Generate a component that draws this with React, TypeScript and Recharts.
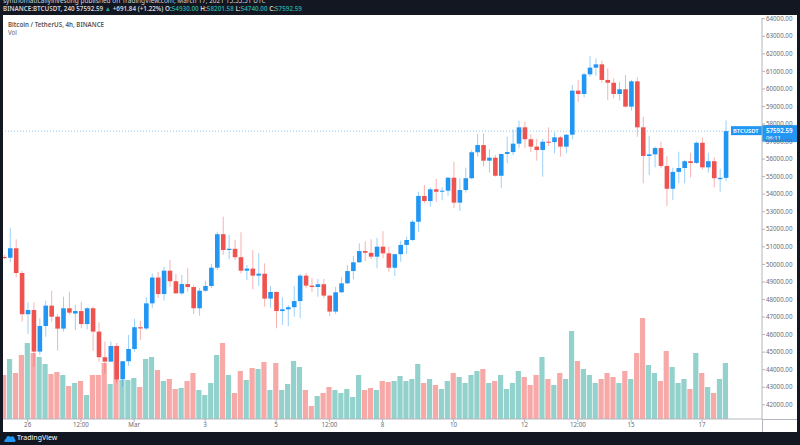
import { ComposedChart, Bar, XAxis, YAxis, Cell, ReferenceLine } from 'recharts';

// 4h candles, BTCUSDT Binance, Feb 25 08:00 -> Mar 17 16:00 (2021)
const opens = [
  50420, 50380, 50920, 49510, 47160, 47400, 45030, 46490, 47650, 47020,
  46340, 47500, 47200, 47340, 46600, 47500, 46170, 44710, 44460, 45350,
  43450, 44480, 45180, 46420, 46350, 47780, 49250, 48310, 49640, 49040,
  48350, 48880, 48710, 47500, 48500, 48770, 49810, 51720, 50820, 50890,
  50410, 49640, 49760, 49360, 49470, 48050, 48430, 47340, 47440, 47560,
  47910, 49360, 48790, 48710, 48870, 48220, 47310, 48410, 48920, 49620,
  50120, 50760, 50660, 50440, 51010, 50630, 49810, 50580, 51110, 51390,
  52430, 53900, 53610, 54280, 54140, 54200, 54940, 53520, 54240, 54910,
  56390, 56800, 55910, 56080, 55050, 56290, 56400, 56880, 57810, 57130,
  56710, 56520, 56990, 56970, 57240, 56710, 57390, 59900, 59710, 60830,
  61210, 61400, 60510, 60350, 59710, 59980, 58990, 60430, 57810, 56180,
  56270, 56630, 55610, 54310, 55270, 55490, 55880, 55780, 56930, 55530,
  55880, 54860, 54930,
];
const highs = [
  50540, 52090, 51430, 49620, 47840, 47840, 46930, 47930, 48500, 47170,
  48160, 48440, 47690, 47870, 47560, 47590, 46700, 45600, 45600, 45520,
  44500, 45980, 46890, 46790, 48130, 49490, 49580, 49870, 50250, 49450,
  49400, 49780, 48830, 48660, 49070, 50020, 51860, 52720, 51680, 51390,
  51830, 49970, 50820, 50630, 50060, 48770, 48450, 48130, 47690, 48770,
  49450, 49510, 49210, 49170, 49170, 48260, 48730, 49270, 49970, 50480,
  51200, 51310, 51430, 51520, 51900, 51010, 50600, 51350, 51580, 52530,
  54140, 54520, 54390, 54870, 54390, 54960, 55850, 54910, 55510, 56520,
  57430, 57450, 56560, 56230, 56300, 57280, 57700, 58190, 58130, 57430,
  57160, 57150, 57810, 57500, 57320, 57400, 60220, 60510, 60920, 61880,
  61740, 61610, 61170, 60600, 60410, 60790, 60510, 60660, 58420, 57330,
  56710, 56990, 56180, 55510, 56420, 55950, 56360, 57000, 57220, 56360,
  56100, 55440, 58201.58,
];
const lows = [
  50300, 50120, 49270, 46740, 46030, 44170, 44840, 45880, 46740, 45080,
  46170, 47120, 46260, 46360, 46300, 45080, 44460, 43810, 44440, 43230,
  43030, 44210, 45030, 45690, 46260, 47500, 48090, 47930, 48730, 48320,
  48260, 48440, 47170, 47080, 48430, 48660, 49680, 50540, 50290, 50250,
  49490, 49110, 48580, 48770, 47590, 47530, 46360, 46550, 46490, 47020,
  46930, 48640, 48430, 48160, 48070, 47060, 47170, 48370, 48880, 49150,
  50080, 50190, 50290, 49780, 50350, 49580, 49340, 50150, 50590, 51330,
  51860, 53480, 53290, 53570, 53670, 53910, 53200, 53040, 54090, 54850,
  56140, 55590, 55230, 55000, 54340, 55760, 56230, 56620, 56620, 56410,
  55910, 55000, 56750, 56330, 56140, 56330, 57130, 59270, 59520, 60700,
  60740, 60350, 59370, 59460, 59330, 58950, 58760, 57280, 54620, 55090,
  55530, 55480, 53330, 53670, 54620, 54620, 54960, 55730, 55420, 55230,
  54390, 54140, 54740,
];
const closes = [
  50360, 50920, 49510, 47160, 47400, 45030, 46490, 47650, 47020, 46340,
  47500, 47250, 47340, 46600, 47500, 46170, 44710, 44460, 45350, 43450,
  44480, 45180, 46420, 46350, 47780, 49250, 48310, 49640, 49040, 48350,
  48880, 48710, 47500, 48500, 48770, 49810, 51720, 50820, 50890, 50410,
  49640, 49760, 49360, 49470, 48050, 48430, 47340, 47440, 47560, 47910,
  49360, 48790, 48710, 48870, 48220, 47310, 48410, 48920, 49620, 50120,
  50760, 50660, 50440, 51010, 50630, 49810, 50580, 51110, 51390, 52430,
  53900, 53610, 54280, 54140, 54200, 54940, 53520, 54240, 54910, 56390,
  56800, 55910, 56080, 55050, 56290, 56400, 56880, 57810, 57130, 56710,
  56520, 56990, 56970, 57240, 56710, 57390, 59900, 59710, 60830, 61210,
  61400, 60510, 60350, 59710, 59980, 58990, 60430, 57810, 56180, 56270,
  56630, 55610, 54310, 55270, 55490, 55880, 55780, 56930, 55530, 55880,
  54910, 54930, 57592.59,
];
const volumes = [
  4400, 6000, 4600, 6400, 7600, 6600, 6200, 5500, 4500, 4700,
  4400, 3300, 3600, 3800, 2400, 4400, 4400, 5600, 3500, 7300,
  3900, 3900, 4100, 3200, 6000, 6200, 4900, 3800, 4000, 3000,
  3100, 3800, 4600, 2900, 2400, 3600, 6400, 7600, 4400, 2600,
  4800, 3900, 5100, 5000, 5700, 2900, 5600, 2900, 3500, 5800,
  5200, 2900, 1300, 2300, 2600, 3200, 2900, 2600, 3000, 2200,
  4400, 2900, 3100, 2900, 3800, 3700, 3800, 4300, 3800, 4000,
  5500, 3600, 4000, 3400, 3000, 3800, 4600, 4200, 3600, 4400,
  4800, 5000, 3600, 3800, 4400, 3000, 3600, 4800, 4200, 3400,
  4400, 6200, 4000, 3400, 4600, 4000, 8800, 5800, 5000, 4400,
  3600, 4000, 4600, 4200, 3600, 4800, 4000, 6600, 10100, 5400,
  4600, 3800, 6800, 5200, 3600, 4000, 3000, 6600, 4600, 3200,
  2600, 4000, 5600,
];

const tickIdx = [4, 13, 22, 34, 46, 55, 64, 76, 88, 97, 106, 118];
const tickLabels = ['26', '12:00', 'Mar', '3', '5', '12:00', '8', '10', '12', '12:00', '15', '17'];
const priceTicks = [
  42000, 43000, 44000, 45000, 46000, 47000, 48000, 49000, 50000, 51000, 52000,
  53000, 54000, 55000, 56000, 57000, 58000, 59000, 60000, 61000, 62000, 63000, 64000,
];
const lastPrice = 57592.59;

const data = opens.map((o, i) => ({
  i,
  open: o,
  high: highs[i],
  low: lows[i],
  close: closes[i],
  volume: volumes[i],
}));

const UP = '#2196f3';
const DOWN = '#ef5350';

function Candle(props: any) {
  const { x, y, width, height, payload } = props;
  if (!payload) return null;
  const { open, close, high, low } = payload;
  const color = close >= open ? UP : DOWN;
  const top = Math.min(y, y + height);
  const full = Math.abs(height);
  const k = high > low ? full / (high - low) : 0;
  const yo = top + (high - open) * k;
  const yc = top + (high - close) * k;
  const cx = x + width / 2;
  return (
    <g>
      <line x1={cx} x2={cx} y1={top} y2={top + full} stroke={color} strokeOpacity={0.45} />
      <rect x={x} y={Math.min(yo, yc)} width={width} height={Math.max(1, Math.abs(yo - yc))} fill={color} />
    </g>
  );
}

function PriceTag(props: any) {
  const vb = props.viewBox || {};
  const right = vb.x + vb.width;
  const ly = vb.y;
  return (
    <g>
      <rect x={right - 31} y={ly - 5} width={31} height={9} fill={UP} />
      <text x={right - 29} y={ly + 2} fontSize={5.8} fill="#fff" fontWeight={600}>BTCUSDT</text>
      <rect x={right} y={ly - 6} width={36} height={17} fill={UP} />
      <text x={right + 4} y={ly + 2} fontSize={6.2} fill="#fff" fontWeight={600}>57592.59</text>
      <text x={right + 4} y={ly + 9} fontSize={5.8} fill="#fff">06:11</text>
    </g>
  );
}

const App = () => {
  return (
    <div style={{ position: 'absolute', left: 0, top: 0, width: 800, height: 445, background: '#131722', overflow: 'hidden', fontFamily: '"Noto Sans", sans-serif' }}>
      <div style={{ position: 'absolute', left: 3, top: -4, fontSize: 6.5, color: '#d1d4dc', whiteSpace: 'nowrap' }}>
        synthomaticallyinvesting published on TradingView.com, March 17, 2021 15:55:51 UTC
      </div>
      <div style={{ position: 'absolute', left: 3, top: 4, fontSize: 6.3, fontWeight: 600, color: '#d1d4dc', whiteSpace: 'nowrap' }}>
        BINANCE:BTCUSDT, 240 57592.59 <span style={{ color: '#26a69a' }}>▲</span> +691.84 (+1.22%) O:<span style={{ color: '#26a69a' }}>54930.00</span> H:<span style={{ color: '#26a69a' }}>58201.58</span> L:<span style={{ color: '#26a69a' }}>54740.00</span> C:<span style={{ color: '#26a69a' }}>57592.59</span>
      </div>
      <div style={{ position: 'absolute', left: 3, top: 15, width: 794, height: 417, background: '#fff' }}>
        <ComposedChart width={794} height={417} data={data} margin={{ top: 3, right: 0, bottom: 0, left: 0 }}>
          <XAxis
            dataKey="i"
            type="number"
            domain={[-0.17, 128.13]}
            allowDataOverflow
            ticks={tickIdx}
            tickFormatter={(v: number) => tickLabels[tickIdx.indexOf(v)] ?? ''}
            height={13}
            tickSize={3}
            tickMargin={1}
            stroke="#b2b5be"
            tick={{ fontSize: 6.2, fill: '#6a6d78' }}
            interval={0}
          />
          <XAxis xAxisId="v" dataKey="i" type="number" domain={[-0.17, 128.13]} allowDataOverflow hide />
          <YAxis
            orientation="right"
            width={35}
            domain={[41190, 64040]}
            allowDataOverflow
            ticks={priceTicks}
            tickFormatter={(v: number) => v.toFixed(2)}
            tickSize={3}
            tickMargin={1}
            stroke="#b2b5be"
            tick={{ fontSize: 6.2, fill: '#6a6d78', textAnchor: 'start' }}
            interval={0}
          />
          <YAxis yAxisId="vol" hide domain={[0, 40100]} allowDataOverflow />
          <Bar dataKey="volume" xAxisId="v" yAxisId="vol" barSize={5.2} isAnimationActive={false}>
            {data.map((d) => (
              <Cell key={d.i} fill={d.close >= d.open ? '#93d2cc' : '#f7a9a8'} />
            ))}
          </Bar>
          <Bar dataKey={(d: any) => [d.low, d.high]} barSize={4.6} shape={<Candle />} isAnimationActive={false} />
          <ReferenceLine y={lastPrice} stroke={UP} strokeOpacity={0.5} strokeDasharray="1 2" label={<PriceTag />} />
        </ComposedChart>
        <div style={{ position: 'absolute', left: 5, top: 5, fontSize: 6.2, fontWeight: 600, color: '#555', whiteSpace: 'nowrap' }}>
          Bitcoin / TetherUS, 4h, BINANCE
        </div>
        <div style={{ position: 'absolute', left: 5, top: 13, fontSize: 6.2, color: '#666' }}>Vol</div>
        <div style={{ position: 'absolute', left: 759, top: 404, width: 35, height: 1, background: '#b2b5be' }} />
        <div style={{ position: 'absolute', left: 759, top: 404, width: 1, height: 13, background: '#b2b5be' }} />
      </div>
      <svg style={{ position: 'absolute', left: 4, top: 434 }} width={12} height={9} viewBox="0 0 12 9">
        <path d="M1 8 C0 8 0 5 2 5 C2 2 5 1 6.5 3 C8 1.5 11 2.5 10.5 5 C12 5.5 12 8 10.5 8 Z" fill="#2196f3" />
      </svg>
      <div style={{ position: 'absolute', left: 17, top: 433, fontSize: 7, color: '#fff', whiteSpace: 'nowrap' }}>TradingView</div>
    </div>
  );
};

export default App;
